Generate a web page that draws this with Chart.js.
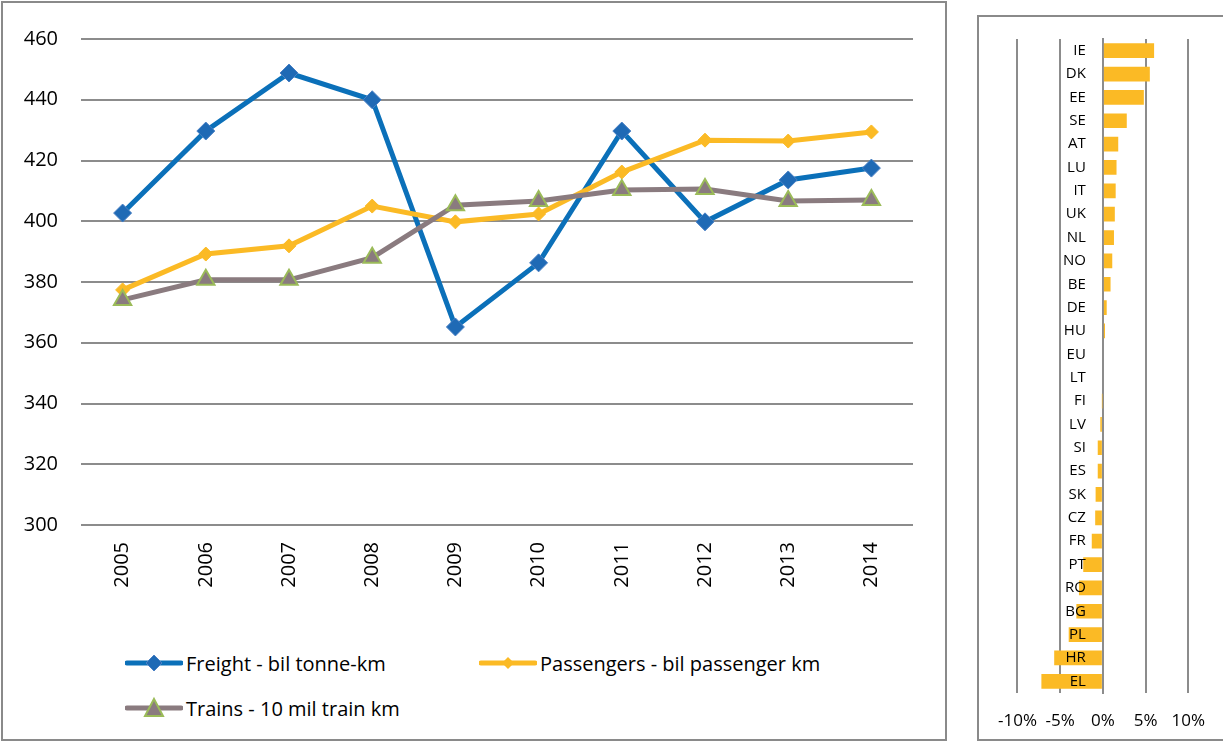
<!DOCTYPE html>
<html>
<head>
<meta charset="utf-8">
<script src="https://cdn.jsdelivr.net/npm/chart.js@4.4.1/dist/chart.umd.min.js"></script>
<style>
  html, body { margin: 0; padding: 0; background: #fff; }
  body { width: 1223px; height: 742px; position: relative; overflow: hidden; font-family: "Open Sans", sans-serif; }
  .panel { position: absolute; border: 2px solid #8a8a8a; box-sizing: border-box; }
  #leftPanel { left: 1px; top: 1px; width: 946px; height: 740px; }
  #rightPanel { left: 977px; top: 15px; width: 260px; height: 726px; }
  #trendWrap { position: absolute; left: 0; top: 0; width: 946px; height: 600px; }
  #growthWrap { position: absolute; left: 980px; top: 18px; width: 243px; height: 724px; }
  .legend-item { position: absolute; height: 24px; display: flex; align-items: center; font-size: 20px; color: #000; white-space: nowrap; }
  .legend-item svg { margin-right: 3px; }
</style>
</head>
<body>
<div id="leftPanel" class="panel"></div>
<div id="rightPanel" class="panel"></div>
<div id="trendWrap"><canvas id="trendChart"></canvas></div>
<div id="growthWrap"><canvas id="growthChart"></canvas></div>

<div class="legend-item" style="left:125px; top:651px;">
  <svg width="58" height="24"><line x1="2" y1="12" x2="56" y2="12" stroke="#0B70B9" stroke-width="5" stroke-linecap="round"/><polygon points="29,4 37,12 29,20 21,12" fill="#1F6AB5" stroke="#4A80C4" stroke-width="1"/></svg>
  <span>Freight - bil tonne-km</span>
</div>
<div class="legend-item" style="left:479px; top:651px;">
  <svg width="58" height="24"><line x1="2" y1="12" x2="56" y2="12" stroke="#FBBA25" stroke-width="5" stroke-linecap="round"/><polygon points="29,6 35,12 29,18 23,12" fill="#FBBA25"/></svg>
  <span>Passengers - bil passenger km</span>
</div>
<div class="legend-item" style="left:125px; top:696px;">
  <svg width="58" height="24"><line x1="2" y1="12" x2="56" y2="12" stroke="#8A7B7F" stroke-width="5" stroke-linecap="round"/><polygon points="29,3 38,20 20,20" fill="#8A7B7F" stroke="#9BBB59" stroke-width="2"/></svg>
  <span>Trains - 10 mil train km</span>
</div>

<script>
/* =========================
   RAIL TRENDS (left)
========================= */
const years = ['2005', '2006', '2007', '2008', '2009', '2010', '2011', '2012', '2013', '2014'];
const freight = [402.7, 429.7, 448.8, 440.0, 365.2, 386.3, 429.7, 399.8, 413.6, 417.5];
const passengers = [377.4, 389.2, 391.9, 405.0, 399.8, 402.4, 416.2, 426.7, 426.4, 429.4];
const trains = [374.1, 380.7, 380.7, 388.0, 405.3, 406.7, 410.3, 410.6, 406.7, 407.0];
const trendTicks = [300, 320, 340, 360, 380, 400, 420, 440, 460];

/* =========================
   GROWTH BY COUNTRY (right)
========================= */
const countries = ['IE', 'DK', 'EE', 'SE', 'AT', 'LU', 'IT', 'UK', 'NL', 'NO', 'BE', 'DE', 'HU', 'EU',
  'LT', 'FI', 'LV', 'SI', 'ES', 'SK', 'CZ', 'FR', 'PT', 'RO', 'BG', 'PL', 'HR', 'EL'];
const growth = [6.0, 5.5, 4.8, 2.8, 1.8, 1.6, 1.5, 1.4, 1.3, 1.1, 0.9, 0.45, 0.25, 0,
  0, -0.05, -0.3, -0.6, -0.6, -0.85, -0.9, -1.3, -2.3, -2.8, -3.1, -4.0, -5.7, -7.2];
const growthTicks = [-10, -5, 0, 5, 10];

const GRID = '#8c8c8c';
Chart.defaults.font.family = '"Open Sans", sans-serif';
Chart.defaults.color = '#000';

// category axis sitting on x=0, labels pushed left of the zero line like Excel does
class ShiftedCategory extends Chart.CategoryScale {
  _computeLabelItems(chartArea) {
    const items = super._computeLabelItems(chartArea);
    items.forEach(it => { it.options.translation[0] -= 17; });
    return items;
  }
}
ShiftedCategory.id = 'shiftedCategory';
ShiftedCategory.defaults = Chart.CategoryScale.defaults;
Chart.register(ShiftedCategory);

let trendChart, growthChart;

function renderTrendChart() {
  const ctx = document.getElementById('trendChart').getContext('2d');
  trendChart?.destroy();
  trendChart = new Chart(ctx, {
    type: 'line',
    data: {
      labels: years,
      datasets: [
        { label: 'Freight - bil tonne-km', data: freight, order: 3,
          borderColor: '#0B70B9', borderWidth: 5, pointStyle: 'rectRot', pointRadius: 9,
          pointBackgroundColor: '#1F6AB5', pointBorderColor: '#4A80C4', pointBorderWidth: 1 },
        { label: 'Passengers - bil passenger km', data: passengers, order: 2,
          borderColor: '#FBBA25', borderWidth: 5, pointStyle: 'rectRot', pointRadius: 7,
          pointBackgroundColor: '#FBBA25', pointBorderColor: '#FBBA25', pointBorderWidth: 1 },
        { label: 'Trains - 10 mil train km', data: trains, order: 1,
          borderColor: '#8A7B7F', borderWidth: 5, pointStyle: 'triangle', pointRadius: 10,
          pointBackgroundColor: '#8A7B7F', pointBorderColor: '#9BBB59', pointBorderWidth: 2 }
      ]
    },
    options: {
      responsive: true, maintainAspectRatio: false, animation: false,
      layout: { padding: { top: 39, right: 33, left: 0, bottom: 0 } },
      plugins: { legend: { display: false }, tooltip: { enabled: false } },
      scales: {
        x: {
          offset: true,
          grid: { display: false, drawTicks: false, offset: true }, border: { display: false },
          ticks: { font: { size: 20 }, minRotation: 90, maxRotation: 90, padding: 17 },
          afterFit: s => { s.height = 75; }
        },
        y: {
          min: 300, max: 460,
          afterBuildTicks: s => { s.ticks = trendTicks.map(v => ({ value: v })); },
          grid: { color: GRID, lineWidth: 2, drawTicks: false }, border: { display: false },
          ticks: { font: { size: 20 }, padding: 23 },
          afterFit: s => { s.width = 81; }
        }
      }
    }
  });
}

function renderGrowthChart() {
  const ctx = document.getElementById('growthChart').getContext('2d');
  growthChart?.destroy();
  growthChart = new Chart(ctx, {
    type: 'bar',
    data: {
      labels: countries,
      datasets: [{ data: growth, backgroundColor: '#FBBA25', categoryPercentage: 1, barPercentage: 0.63 }]
    },
    options: {
      indexAxis: 'y',
      responsive: true, maintainAspectRatio: false, animation: false,
      layout: { padding: { top: 21, right: 33, left: 35, bottom: 0 } },
      plugins: { legend: { display: false }, tooltip: { enabled: false } },
      scales: {
        x: {
          min: -10, max: 10,
          afterBuildTicks: s => { s.ticks = growthTicks.map(v => ({ value: v })); },
          grid: { color: GRID, lineWidth: 2, drawTicks: false }, border: { display: false },
          ticks: { font: { size: 17 }, padding: 18, minRotation: 0, maxRotation: 0, callback: v => v + '%' },
          afterFit: s => { s.height = 49; }
        },
        y: {
          type: 'shiftedCategory',
          position: { x: 0 },
          grid: { display: false, drawTicks: false },
          border: { display: true, color: GRID, width: 2 },
          ticks: { font: { size: 15 }, padding: 0, autoSkip: false, z: 1 }
        }
      }
    }
  });
}

renderTrendChart();
renderGrowthChart();
</script>
</body>
</html>
